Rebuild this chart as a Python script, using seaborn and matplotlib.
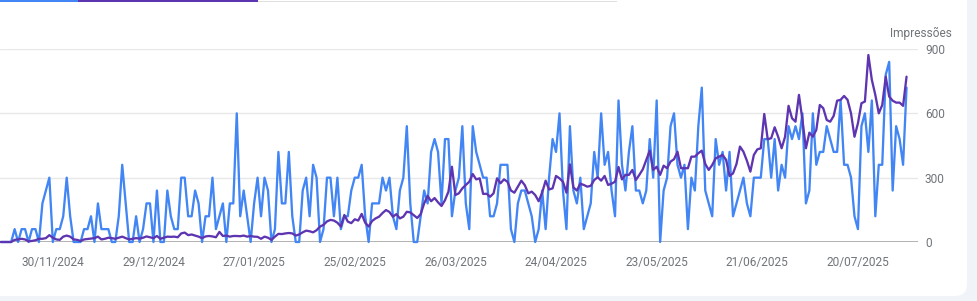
import numpy as np
import pandas as pd
import matplotlib
matplotlib.use("Agg")
import matplotlib.pyplot as plt
import matplotlib.dates as mdates
from matplotlib.patches import FancyBboxPatch, Rectangle
from matplotlib.transforms import IdentityTransform
import seaborn as sns

# ---------------- data ----------------
start_date = "2024-11-15"

clicks = [
    0, 0, 0, 0, 1, 0, 1, 1, 0, 1, 1, 0, 3, 4, 5, 0, 1, 1, 2, 5,
    2, 0, 0, 0, 1, 1, 2, 0, 3, 1, 1, 1, 0, 0, 2, 6, 3, 0, 0, 2,
    0, 1, 3, 3, 0, 4, 0, 0, 4, 2, 1, 1, 5, 5, 2, 2, 4, 3, 0, 2,
    2, 5, 1, 2, 3, 0, 3, 3, 10, 2, 4, 2, 0, 3, 5, 2, 5, 4, 0, 1,
    7, 3, 3, 7, 2, 0, 0, 4, 5, 2, 6, 5, 0, 1, 5, 5, 2, 5, 1, 2,
    2, 4, 5, 5, 6, 2, 0, 3, 3, 3, 5, 4, 5, 2, 1, 4, 5, 9, 3, 0,
    0, 2, 4, 3, 7, 8, 7, 3, 8, 8, 2, 4, 5, 9, 3, 1, 9, 7, 6, 5,
    5, 2, 2, 3, 6, 6, 6, 1, 0, 3, 4, 4, 3, 2, 0, 1, 4, 1, 5, 8,
    7, 10, 4, 1, 9, 4, 3, 5, 1, 2, 3, 7, 5, 10, 6, 7, 4, 2, 11, 6,
    4, 7, 9, 4, 4, 3, 4, 8, 5, 11, 0, 4, 5, 9, 10, 6, 5, 6, 1, 5,
    4, 9, 12, 4, 3, 2, 8, 6, 7, 4, 7, 2, 3, 4, 5, 3, 2, 5, 5, 5,
    8, 8, 5, 8, 4, 6, 5, 9, 8, 9, 8, 10, 3, 4, 10, 6, 7, 7, 9, 8,
    7, 7, 11, 6, 6, 5, 2, 1, 9, 10, 7, 11, 2, 6, 6, 13, 14, 4, 9, 8,
    6, 12,
]

impressions = [
    0, 0, 0, 0, 10, 12, 15, 12, 3, 5, 8, 15, 15, 18, 32, 20, 12, 10, 25, 30,
    25, 12, 10, 5, 12, 14, 16, 18, 25, 12, 15, 20, 18, 15, 20, 25, 18, 12, 15, 18,
    16, 20, 26, 22, 18, 28, 15, 20, 25, 24, 25, 22, 40, 44, 32, 35, 30, 25, 18, 26,
    28, 26, 22, 47, 28, 30, 25, 28, 28, 27, 30, 25, 28, 25, 24, 15, 25, 20, 10, 25,
    38, 37, 40, 42, 40, 30, 35, 45, 53, 50, 45, 55, 72, 80, 96, 103, 100, 90, 72, 126,
    95, 88, 106, 100, 131, 90, 72, 98, 110, 118, 135, 149, 140, 118, 130, 110, 118, 141, 138, 125,
    112, 130, 180, 215, 190, 205, 185, 168, 195, 235, 351, 219, 227, 250, 266, 281, 317, 292, 297, 224,
    225, 211, 227, 297, 274, 292, 281, 240, 230, 258, 286, 265, 227, 235, 219, 190, 230, 286, 245, 250,
    308, 297, 281, 230, 362, 255, 240, 272, 266, 258, 262, 289, 302, 286, 308, 266, 272, 281, 350, 292,
    313, 313, 336, 289, 313, 339, 383, 426, 336, 351, 313, 356, 344, 375, 386, 421, 344, 344, 344, 398,
    398, 414, 426, 364, 336, 359, 390, 398, 406, 383, 308, 320, 364, 445, 421, 379, 328, 406, 432, 437,
    597, 479, 484, 535, 491, 437, 491, 635, 577, 561, 686, 569, 437, 510, 491, 523, 639, 624, 569, 561,
    588, 659, 663, 681, 663, 600, 491, 554, 647, 655, 872, 756, 686, 600, 639, 771, 678, 659, 650, 650,
    635, 771,
]

xtick_dates = ["2024-11-30", "2024-12-29", "2025-01-27", "2025-02-25", "2025-03-26",
               "2025-04-24", "2025-05-23", "2025-06-21", "2025-07-20"]
imp_ticks = [0, 300, 600, 900]
click_ticks = [0, 5, 10, 15]
axis_title = "Impressões"

dates = pd.date_range(start_date, periods=len(clicks), freq="D")
df = pd.DataFrame({"date": dates, "clicks": clicks, "impressions": impressions})

# ---------------- style ----------------
sns.set_theme(style="white")
plt.rcParams["font.family"] = ["Roboto", "DejaVu Sans"]

BLUE = "#4285f4"
PURPLE = "#5e35b1"
TXT = "#70757a"
BG = "#f0f4f9"

W, H = 977, 301
fig = plt.figure(figsize=(W / 100, H / 100), dpi=100, facecolor=BG)

# white card with rounded bottom-right corner
card = FancyBboxPatch((-30, H - 296), 967 + 30, 296 + 30,
                      boxstyle="round,pad=0,rounding_size=12",
                      transform=IdentityTransform(), facecolor="white",
                      edgecolor="none", zorder=-10)
fig.patches.append(card)

# top tab indicator bars
fig.patches.append(Rectangle((0, H - 2), 78, 2, transform=IdentityTransform(),
                             facecolor=BLUE, edgecolor="none", zorder=1))
fig.patches.append(Rectangle((78, H - 2), 180, 2, transform=IdentityTransform(),
                             facecolor=PURPLE, edgecolor="none", zorder=1))
fig.patches.append(Rectangle((258, H - 1.5), 359, 1, transform=IdentityTransform(),
                             facecolor="#e0e0e0", edgecolor="none", zorder=1))

ax_left, ax_right = 0, 918
ax_bottom, ax_top = 242, 49
ax = fig.add_axes([ax_left / W, (H - ax_bottom) / H,
                   (ax_right - ax_left) / W, (ax_bottom - ax_top) / H])
ax.patch.set_alpha(0)
ax2 = ax.twinx()
ax2.patch.set_alpha(0)

# clicks on hidden left axis
sns.lineplot(data=df, x="date", y="clicks", ax=ax, color=BLUE, linewidth=1.65,
             clip_on=False, zorder=3)
# impressions on right axis
sns.lineplot(data=df, x="date", y="impressions", ax=ax2, color=PURPLE, linewidth=1.65,
             clip_on=False, zorder=3)

x0 = dates[0] - pd.Timedelta(days=0.22)
x1 = dates[0] + pd.Timedelta(days=264.3)
ax.set_xlim(x0, x1)
ax.set_ylim(click_ticks[0], click_ticks[-1])
ax2.set_ylim(imp_ticks[0], imp_ticks[-1])

ax.set_yticks(click_ticks)
ax.yaxis.grid(True, color="#e8e8e8", linewidth=1)
ax.set_yticklabels([])
ax.tick_params(axis="y", length=0)
ax.axhline(0, color="#9e9e9e", linewidth=1.1, zorder=2)

ax2.set_yticks(imp_ticks)
ax2.set_yticklabels([str(v) for v in imp_ticks])
ax2.tick_params(axis="y", length=0, pad=5, labelsize=8.6, labelcolor=TXT)
ax2.grid(False)

ax.set_xticks(pd.to_datetime(xtick_dates))
ax.xaxis.set_major_formatter(mdates.DateFormatter("%d/%m/%Y"))
ax.tick_params(axis="x", length=0, pad=10, labelsize=8.6, labelcolor=TXT)

for a in (ax, ax2):
    for s in a.spines.values():
        s.set_visible(False)
    a.set_xlabel("")
    a.set_ylabel("")

fig.text(952 / W, (H - 33) / H, axis_title, ha="right", va="center",
         fontsize=8.6, color=TXT)

fig.savefig("out.png", dpi=100, facecolor=BG)
